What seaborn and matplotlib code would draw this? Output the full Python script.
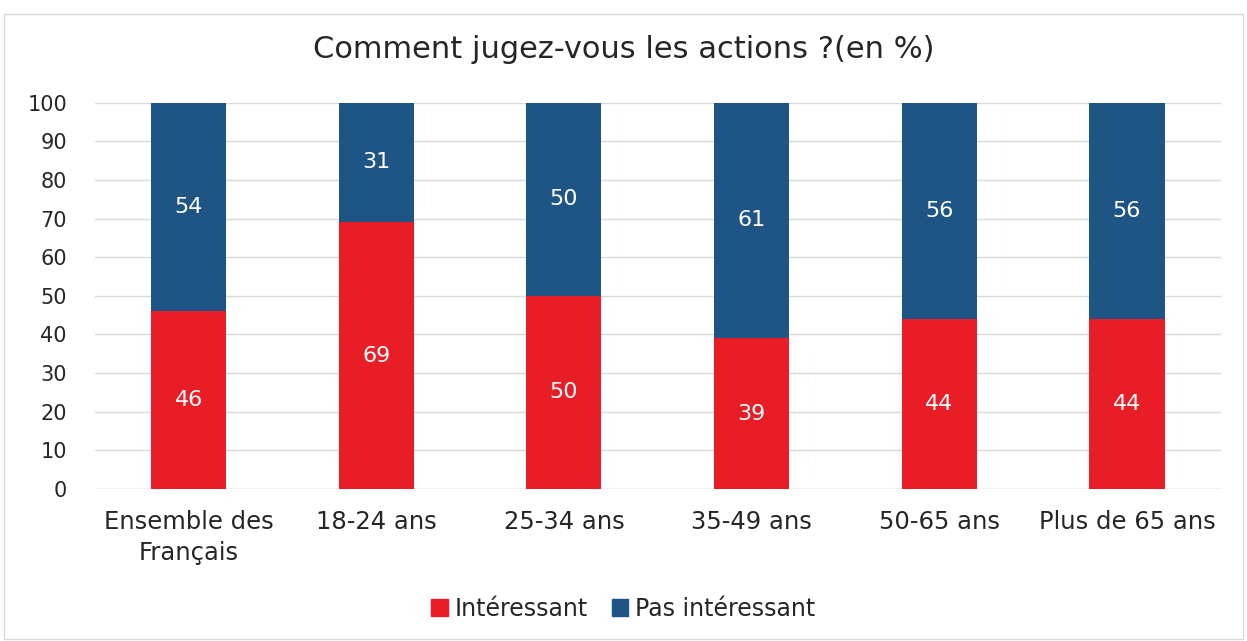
import pandas as pd
import seaborn as sns
import matplotlib.pyplot as plt
from matplotlib.patches import Patch

# Data
categories = ['Ensemble des\nFrançais', '18-24 ans', '25-34 ans', '35-49 ans', '50-65 ans', 'Plus de 65 ans']
interessant = [46, 69, 50, 39, 44, 44]
pas_interessant = [54, 31, 50, 61, 56, 56]

red = '#E81D25'
blue = '#1F5585'

df = pd.DataFrame({'cat': categories, 'int': interessant, 'pas': pas_interessant})
df['total'] = df['int'] + df['pas']

sns.set_theme(style='white')
plt.rcParams['font.family'] = ['DejaVu Sans']

fig = plt.figure(figsize=(12.47, 6.41), dpi=100)
ax = fig.add_axes([0.076, 0.237, 0.903, 0.603])

# stacked: draw total in blue, then the red part over it
sns.barplot(data=df, x='cat', y='total', color=blue, width=0.4, ax=ax, saturation=1,
            linewidth=0, zorder=2)
sns.barplot(data=df, x='cat', y='int', color=red, width=0.4, ax=ax, saturation=1,
            linewidth=0, zorder=3)

for i, row in df.iterrows():
    ax.text(i, row['int'] / 2, str(row['int']), ha='center', va='center',
            color='white', fontsize=16, zorder=4)
    ax.text(i, row['int'] + row['pas'] / 2, str(row['pas']), ha='center', va='center',
            color='white', fontsize=16, zorder=4)

ax.set_ylim(0, 100)
ax.set_xlim(-0.5, 5.5)
ax.set_yticks(range(0, 101, 10))
ax.yaxis.grid(True, color='#D9D9D9', linewidth=1, zorder=0)
ax.set_axisbelow(True)
for s in ax.spines.values():
    s.set_visible(False)
ax.axhline(0, color='#D9D9D9', linewidth=1, zorder=1)
ax.set_xlabel('')
ax.set_ylabel('')
ax.tick_params(axis='both', colors='#262626', length=0)
ax.tick_params(axis='y', labelsize=15, pad=20)
ax.tick_params(axis='x', labelsize=17.5, pad=15)
for lbl in ax.get_xticklabels():
    lbl.set_linespacing(1.35)

fig.suptitle('Comment jugez-vous les actions ?(en %)', fontsize=22, color='#262626', y=0.945)

handles = [Patch(color=red, label='Intéressant'), Patch(color=blue, label='Pas intéressant')]
fig.legend(handles=handles, loc='center', bbox_to_anchor=(0.5, 0.05), ncol=2, frameon=False,
           fontsize=17, handlelength=0.7, handleheight=0.7, handletextpad=0.3, columnspacing=1.0)

# light border around the whole chart
fig.patches.append(plt.Rectangle((0.003, 0.003), 0.994, 0.975, transform=fig.transFigure,
                                 fill=False, edgecolor='#D9D9D9', linewidth=1))

fig.savefig('out.png', dpi=100)
